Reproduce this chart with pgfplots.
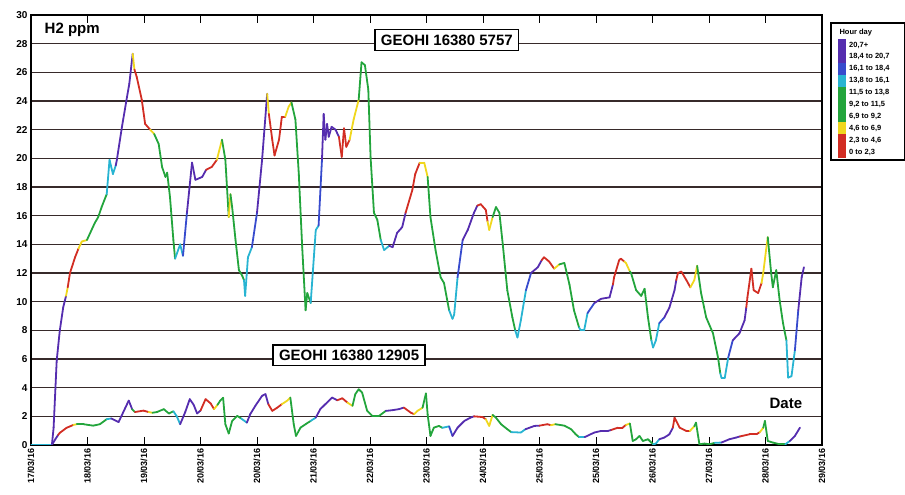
\documentclass[border=0pt]{standalone}
\usepackage{pgfplots}
\pgfplotsset{compat=1.18}
\usepackage{pgfplotstable}
\usepackage{fontspec}
\setmainfont{Liberation Sans}

\definecolor{hred}{RGB}{210,45,35}
\definecolor{hyel}{RGB}{240,215,30}
\definecolor{hgrn}{RGB}{35,165,60}
\definecolor{hcya}{RGB}{40,180,210}
\definecolor{hblu}{RGB}{55,75,205}
\definecolor{hpur}{RGB}{85,45,175}
\definecolor{gridc}{RGB}{55,42,42}

% c = hour-of-day class: 0 red, 1 yellow, 2 green, 3 cyan, 4 blue, 5 purple
\pgfplotstableread{
x y c
0 0 3
0.37 0 5
0.40 1.2 5
0.455 5.9 5
0.51 8.0 5
0.57 9.6 5
0.62 10.4 1
0.65 11.0 0
0.69 12.0 0
0.78 13.1 0
0.84 13.7 1
0.90 14.2 1
0.99 14.3 2
1.13 15.5 2
1.19 15.9 2
1.25 16.6 2
1.34 17.5 3
1.39 19.9 3
1.45 18.9 3
1.50 19.5 5
1.52 19.9 5
1.61 22.2 5
1.70 24.3 5
1.74 25.2 5
1.80 27.3 1
1.83 26.2 0
1.87 25.7 0
1.96 24.1 0
2.02 22.4 0
2.11 22.0 1
2.18 21.7 2
2.26 21.0 2
2.32 19.4 2
2.38 18.7 2
2.41 19.0 2
2.46 17.3 2
2.52 14.3 2
2.55 13.0 3
2.64 14.0 3
2.69 13.2 4
2.76 16.2 5
2.85 19.7 5
2.91 18.5 5
3.03 18.7 5
3.10 19.2 0
3.20 19.4 0
3.29 19.9 1
3.38 21.3 2
3.44 19.9 2
3.50 15.9 1
3.53 17.5 2
3.56 16.6 2
3.62 14.3 2
3.68 12.2 2
3.74 11.8 2
3.77 11.5 3
3.79 10.4 3
3.84 13.1 3
3.91 13.8 4
4.00 16.2 5
4.09 19.9 5
4.18 24.5 1
4.21 23.1 0
4.27 21.3 0
4.31 20.2 0
4.39 21.3 0
4.44 22.9 0
4.50 22.9 1
4.56 23.6 1
4.61 23.9 2
4.68 22.7 2
4.74 18.9 2
4.80 13.8 2
4.86 9.4 2
4.89 10.6 2
4.95 9.9 3
5.04 15.0 3
5.09 15.3 4
5.15 19.9 5
5.18 23.1 5
5.21 21.3 5
5.24 22.4 5
5.27 21.5 5
5.32 22.2 5
5.39 22.0 5
5.45 21.5 0
5.50 20.1 0
5.54 22.1 0
5.58 20.8 0
5.64 21.3 1
5.71 22.7 1
5.80 24.1 2
5.85 26.7 2
5.91 26.5 2
5.97 24.8 2
6.01 20.1 2
6.07 16.2 2
6.13 15.7 2
6.19 14.3 3
6.25 13.6 3
6.34 13.9 5
6.40 13.8 5
6.48 14.8 5
6.57 15.2 5
6.63 16.2 0
6.75 17.8 0
6.80 18.9 0
6.88 19.7 1
6.96 19.7 1
7.02 18.7 2
7.07 15.9 2
7.16 13.6 2
7.25 11.7 2
7.31 11.3 2
7.40 9.4 3
7.46 8.8 3
7.49 9.1 3
7.55 11.7 4
7.64 14.3 5
7.73 15.0 5
7.84 16.2 5
7.90 16.7 0
7.96 16.8 0
8.05 16.4 0
8.08 15.6 1
8.11 15.0 1
8.17 15.9 2
8.23 16.6 2
8.29 16.2 2
8.35 14.0 2
8.43 10.8 2
8.52 8.9 2
8.57 8.0 3
8.61 7.5 3
8.67 8.7 3
8.76 10.8 4
8.85 12.0 5
8.97 12.4 5
9.04 12.9 0
9.08 13.1 0
9.17 12.8 0
9.26 12.3 1
9.35 12.6 2
9.44 12.7 2
9.53 11.2 2
9.61 9.4 2
9.70 8.2 3
9.73 8.0 3
9.79 8.0 3
9.85 9.2 4
9.97 9.9 5
10.09 10.2 5
10.24 10.3 5
10.30 11.2 0
10.32 11.7 0
10.41 12.9 0
10.44 13.0 0
10.50 12.8 1
10.53 12.7 1
10.60 12.1 2
10.62 12.0 2
10.71 10.8 2
10.80 10.4 2
10.86 10.9 2
10.92 8.9 2
10.98 7.3 3
11.01 6.8 3
11.06 7.3 3
11.12 8.5 4
11.21 8.9 5
11.30 9.6 5
11.39 10.8 5
11.42 11.5 0
11.45 12.0 0
11.51 12.1 0
11.60 11.5 0
11.67 11.0 1
11.74 11.5 1
11.79 12.5 2
11.86 10.6 2
11.95 8.9 2
12.07 7.8 2
12.16 6.1 2
12.20 5.0 3
12.22 4.7 3
12.28 4.7 3
12.34 6.1 4
12.42 7.3 5
12.54 7.8 5
12.63 8.7 5
12.66 9.6 0
12.68 10.3 0
12.75 12.3 0
12.79 10.8 0
12.87 10.6 0
12.93 11.3 1
12.96 12.0 1
13.01 13.6 1
13.04 14.5 2
13.10 12.0 2
13.13 11.0 2
13.19 12.2 2
13.25 10.1 2
13.31 8.5 2
13.37 7.3 3
13.40 4.7 3
13.46 4.8 3
13.52 6.6 4
13.58 9.4 5
13.64 11.7 5
13.68 12.4 5
}\geohiA

\pgfplotstableread{
x y c
0 0 3
0.37 0 5
0.43 0.4 5
0.48 0.7 0
0.51 0.85 0
0.63 1.2 0
0.75 1.4 1
0.81 1.45 2
0.93 1.45 2
1.10 1.35 2
1.22 1.45 2
1.34 1.8 3
1.42 1.85 5
1.55 1.6 5
1.67 2.6 5
1.73 3.1 5
1.79 2.5 2
1.84 2.3 0
1.99 2.4 0
2.08 2.3 1
2.15 2.25 2
2.23 2.3 2
2.35 2.5 2
2.44 2.2 2
2.52 2.35 3
2.58 2.0 3
2.64 1.45 5
2.73 2.3 5
2.81 3.2 5
2.88 2.8 5
2.94 2.2 5
3.00 2.4 0
3.09 3.2 0
3.18 2.9 0
3.24 2.5 1
3.30 2.8 2
3.35 3.1 2
3.40 3.3 2
3.44 1.45 2
3.50 0.8 2
3.56 1.68 2
3.65 2.03 2
3.72 1.85 3
3.82 1.56 5
3.88 2.15 5
3.97 2.73 5
4.09 3.43 5
4.15 3.55 5
4.20 2.85 0
4.27 2.38 0
4.36 2.61 0
4.44 2.85 1
4.53 3.08 1
4.59 3.31 2
4.65 1.45 2
4.69 0.63 2
4.77 1.21 2
4.86 1.45 2
4.95 1.68 3
5.04 1.91 5
5.12 2.50 5
5.21 2.85 5
5.33 3.31 5
5.42 3.12 0
5.51 3.26 0
5.60 2.96 1
5.69 2.73 2
5.74 3.55 2
5.80 3.89 2
5.86 3.66 2
5.95 2.38 2
6.04 2.03 2
6.16 2.03 2
6.28 2.38 5
6.40 2.43 5
6.51 2.50 5
6.60 2.61 0
6.72 2.26 0
6.78 2.15 1
6.84 2.38 1
6.93 2.6 2
6.99 3.6 2
7.02 2.14 2
7.07 0.63 2
7.13 1.21 2
7.22 1.33 2
7.28 1.2 3
7.40 1.3 4
7.46 0.63 5
7.55 1.21 5
7.67 1.68 5
7.78 1.91 5
7.84 2.0 0
7.99 1.95 0
8.05 1.8 1
8.11 1.33 1
8.17 2.1 2
8.23 1.9 2
8.32 1.45 2
8.43 1.1 2
8.50 0.9 3
8.67 0.87 3
8.75 1.1 5
8.91 1.33 5
9.00 1.35 0
9.14 1.45 0
9.20 1.38 1
9.28 1.45 2
9.44 1.35 2
9.56 1.1 2
9.64 0.75 2
9.70 0.55 3
9.80 0.55 5
9.97 0.87 5
10.09 0.98 5
10.21 0.98 5
10.27 1.05 0
10.39 1.21 0
10.47 1.21 0
10.53 1.4 1
10.60 1.5 2
10.65 0.28 2
10.71 0.4 2
10.77 0.63 2
10.83 0.28 2
10.92 0.4 2
11.01 0.05 3
11.06 0.1 3
11.12 0.4 5
11.21 0.52 5
11.30 0.75 5
11.36 1.21 0
11.39 1.91 0
11.48 1.21 0
11.60 0.98 0
11.66 0.98 1
11.74 1.3 2
11.77 1.56 2
11.83 0.05 2
11.92 0.1 2
12.01 0.05 2
12.10 0.15 3
12.22 0.17 5
12.36 0.4 5
12.48 0.52 5
12.55 0.6 0
12.72 0.75 0
12.84 0.75 0
12.90 0.9 1
12.96 1.2 2
12.99 1.68 2
13.04 0.28 2
13.13 0.17 2
13.25 0.05 2
13.35 0.05 3
13.43 0.28 5
13.52 0.63 5
13.61 1.21 5
}\geohiB

\begin{document}
\begin{tikzpicture}
\path[use as bounding box] (-31pt,-50pt) rectangle (874pt,445pt);
\begin{axis}[
  at={(0pt,0pt)}, anchor=south west,
  scale only axis, width=791pt, height=430pt,
  xmin=0, xmax=14, ymin=0, ymax=30,
  xtick={0,...,14},
  xticklabels={17/03/16,18/03/16,19/03/16,20/03/16,20/03/16,21/03/16,22/03/16,23/03/16,24/03/16,25/03/16,25/03/16,26/03/16,27/03/16,28/03/16,29/03/16},
  ytick={0,2,...,30},
  ymajorgrids,
  grid style={line width=1.2pt, draw=gridc},
  axis line style={line width=1.6pt},
  tick align=inside,
  major tick length=8pt,
  xtick style={black, line width=0.8pt},
  ytick style={draw=none},
  x tick label style={rotate=90, anchor=east, font=\bfseries\fontsize{9}{10}\selectfont},
  y tick label style={font=\bfseries\fontsize{10}{11}\selectfont},
  /pgf/number format/assume math mode=true,
  colormap={hourday}{rgb255=(210,45,35) rgb255=(240,215,30) rgb255=(35,165,60) rgb255=(40,180,210) rgb255=(55,75,205) rgb255=(85,45,175)},
  point meta min=0, point meta max=5,
]
\addplot[mesh, shader=flat corner, point meta=explicit, line width=1.8pt, line join=round, line cap=round]
  table[x=x, y=y, meta=c] {\geohiA};
\addplot[mesh, shader=flat corner, point meta=explicit, line width=1.8pt, line join=round, line cap=round]
  table[x=x, y=y, meta=c] {\geohiB};

\node[anchor=west, font=\bfseries\fontsize{15}{16}\selectfont] at (axis cs:0.18,28.96) {H2 ppm};
\node[draw, line width=1.5pt, fill=white, inner xsep=6pt, inner ysep=5pt,
  font=\bfseries\fontsize{15}{16}\selectfont] at (axis cs:7.36,28.26) {GEOHI 16380 5757};
\node[draw, line width=1.5pt, fill=white, inner xsep=6pt, inner ysep=5pt,
  font=\bfseries\fontsize{15}{16}\selectfont] at (axis cs:5.63,6.25) {GEOHI 16380 12905};
\node[font=\bfseries\fontsize{15}{16}\selectfont] at (axis cs:13.36,2.93) {Date};
\end{axis}

% hour-of-day key
\draw[line width=1.2pt, fill=white] (800pt,285pt) rectangle (874pt,422pt);
\node[anchor=west, font=\bfseries\fontsize{7.5}{8}\selectfont] at (805pt,412pt) {Hour day};
\fill[hpur] (807pt,406pt) rectangle (815pt,382.2pt);
\fill[hblu] (807pt,382.2pt) rectangle (815pt,370.3pt);
\fill[hcya] (807pt,370.3pt) rectangle (815pt,358.4pt);
\fill[hgrn] (807pt,358.4pt) rectangle (815pt,322.7pt);
\fill[hyel] (807pt,322.7pt) rectangle (815pt,310.8pt);
\fill[hred] (807pt,310.8pt) rectangle (815pt,287pt);
\begin{scope}[every node/.style={anchor=west, inner sep=0pt, font=\bfseries\fontsize{7.5}{8}\selectfont}]
\node at (818pt,400pt) {20,7+};
\node at (818pt,388.1pt) {18,4 to 20,7};
\node at (818pt,376.2pt) {16,1 to 18,4};
\node at (818pt,364.3pt) {13,8 to 16,1};
\node at (818pt,352.4pt) {11,5 to 13,8};
\node at (818pt,340.5pt) {9,2 to 11,5};
\node at (818pt,328.6pt) {6,9 to 9,2};
\node at (818pt,316.7pt) {4,6 to 6,9};
\node at (818pt,304.8pt) {2,3 to 4,6};
\node at (818pt,292.9pt) {0 to 2,3};
\end{scope}
\end{tikzpicture}
\end{document}
